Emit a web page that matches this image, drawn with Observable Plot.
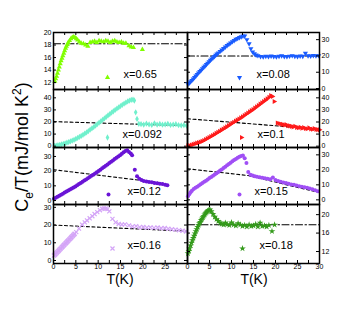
<!DOCTYPE html>
<html><head><meta charset="utf-8">
<script src="https://cdn.jsdelivr.net/npm/d3@7"></script>
<script src="https://cdn.jsdelivr.net/npm/@observablehq/plot@0.6"></script>
<style>
html,body{margin:0;padding:0;background:#fff;}
#chart{position:relative;width:360px;height:318px;overflow:hidden;font-family:"Liberation Sans",Arial,sans-serif;background:#fff;}
.panel{position:absolute;}
.panel svg{display:block;overflow:visible;background:transparent;}
.xlab{position:absolute;font-size:14px;transform:translate(-50%,-50%);white-space:nowrap;color:#000;}
.ylab{position:absolute;font-size:18px;transform:translate(-50%,-50%) rotate(-90deg);white-space:nowrap;color:#000;}
</style></head><body><div id="chart"></div><script>
// ---------- data ----------
const xMinor = [2.5,5,7.5,10,12.5,15,17.5,20,22.5,25,27.5];
const xLabelsLeft = [0,5,10,15,20,25];
const xLabelsRight = [0,5,10,15,20,25,30];

const labels = ["x=0.65","x=0.08","x=0.092","x=0.1","x=0.12","x=0.15","x=0.16","x=0.18"];

const yTicks1 = [12,14,16,18,20];
const yTicks2 = [0,10,20,30];
const yTicks3 = [0,10,20,30,40];
const yTicks4 = [0,10,20,30,40];
const yTicks5 = [0,10,20,30];
const yTicks6 = [0,10,20,30];
const yTicks7 = [0,10,20,30];
const yTicks8 = [12,16,20];

const T1 = [0.3,0.5,0.7,0.9,1.1,1.3,1.5,1.7,1.9,2.1,2.3,2.5,2.7,2.9,3.1,3.3,3.6,3.9,4.2,4.5,4.8,5.1,5.4,5.8,6.2,6.7,7.2,7.7,8.2,8.7,9.2,9.7,10.2,10.7,11.2,11.7,12.2,12.7,13.2,13.7,14.2,14.7,15.2,15.7,16.2,16.9,17.4,17.9,19.9];
const C1 = [12.2,12.6,13.0,13.5,14.0,14.5,15.0,15.5,15.9,16.3,16.7,17.1,17.5,17.8,18.1,18.4,18.7,19.0,19.2,19.3,19.2,19.0,18.8,18.5,18.3,18.2,18.0,17.8,18.4,18.5,18.6,18.4,18.7,18.6,18.5,18.7,18.6,18.4,18.6,18.7,18.5,18.4,18.5,18.3,18.3,17.9,17.7,17.6,17.3];

const T2 = [0.1,0.4,0.7,1.0,1.3,1.6,1.9,2.2,2.5,2.8,3.1,3.4,3.7,4.0,4.3,4.6,4.9,5.2,5.5,5.8,6.1,6.4,6.7,7.0,7.4,7.8,8.2,8.6,9.0,9.4,9.8,10.2,10.6,11.0,11.4,11.8,12.2,12.6,13.0,13.5,14.0,14.4,14.8,15.2,15.6,16.0,16.6,17.2,17.8,18.4,19.0,19.6,20.2,20.8,21.4,22.0,22.6,23.2,23.8,24.4,25.0,25.6,26.2,26.8,27.4,28.0,28.6,29.2,29.8];
const C2 = [2.8,3.4,4.2,5.0,5.9,6.8,7.7,8.7,9.6,10.5,11.3,12.2,13.0,13.9,14.8,15.6,16.5,17.3,18.1,18.9,19.7,20.4,21.2,21.9,22.8,23.7,24.6,25.5,26.4,27.2,28.0,28.8,29.5,30.2,30.8,31.3,31.8,32.2,32.3,30.0,27.5,24.5,22.5,21.3,20.6,20.2,19.7,19.5,19.8,19.6,20.0,19.7,19.5,19.8,20.1,19.7,19.6,19.9,20.2,19.8,19.6,20.0,19.8,21.6,20.1,20.0,20.3,20.1,20.2];

const T3 = [0.2,0.6,1.0,1.4,1.8,2.2,2.6,3.0,3.4,3.8,4.2,4.6,5.0,5.4,5.8,6.2,6.6,7.0,7.4,7.8,8.2,8.6,9.0,9.4,9.8,10.2,10.6,11.0,11.4,11.8,12.2,12.6,13.0,13.4,13.8,14.2,14.6,15.0,15.4,15.8,16.2,16.6,17.0,17.4,17.8,18.1,18.4,18.7,19.1,19.6,20.2,20.8,21.4,22.0,22.6,23.2,23.8,24.4,25.0,25.6,26.2,26.8,27.4,28.0,28.6,29.2,29.8];
const C3 = [0.3,0.5,0.8,1.1,1.5,1.9,2.4,2.9,3.4,4.0,4.6,5.3,6.0,6.8,7.6,8.5,9.4,10.4,11.4,12.5,13.6,14.7,15.8,17.0,18.2,19.4,20.6,21.8,23.0,24.2,25.4,26.6,27.8,28.9,30.0,31.1,32.2,33.2,34.2,35.2,36.1,37.0,37.7,38.3,38.6,37.8,28.0,22.5,18.5,18.3,17.8,18.6,18.0,17.6,18.9,17.9,18.4,17.8,18.1,18.5,17.6,17.9,18.2,17.4,17.2,17.5,17.0];

const T4 = [0.1,0.5,0.9,1.3,1.7,2.1,2.5,2.9,3.3,3.7,4.1,4.5,4.9,5.3,5.7,6.1,6.5,6.9,7.3,7.7,8.1,8.5,8.9,9.3,9.7,10.1,10.5,10.9,11.3,11.7,12.1,12.5,12.9,13.3,13.7,14.1,14.5,14.9,15.3,15.7,16.1,16.5,16.9,17.3,17.7,18.1,18.5,18.9,19.3,19.7,20.4,20.8,21.2,21.6,22.0,22.4,22.8,23.2,23.6,24.0,24.4,24.8,25.2,25.6,26.0,26.4,26.8,27.2,27.6,28.0,28.4,28.8,29.2,29.6,30.0];
const C4 = [0.2,0.6,1.0,1.5,2.0,2.5,2.9,3.4,4.0,4.7,5.5,6.3,7.2,8.0,8.8,9.7,10.6,11.5,12.4,13.3,14.2,15.1,16.0,17.0,18.0,18.9,19.8,20.7,21.6,22.5,23.4,24.4,25.4,26.4,27.4,28.4,29.4,30.4,31.5,32.6,33.7,34.8,35.9,37.0,38.1,39.2,40.4,41.8,41.2,37.0,19.2,18.8,18.4,18.0,17.6,17.8,17.0,16.8,16.4,16.0,16.5,15.6,15.2,15.6,14.8,15.3,14.6,14.4,15.1,14.2,14.0,14.5,13.9,13.7,13.5];

const T5 = [0.1,0.5,0.9,1.3,1.7,2.1,2.5,2.9,3.3,3.7,4.1,4.5,4.9,5.3,5.7,6.1,6.5,6.9,7.3,7.7,8.1,8.5,8.9,9.3,9.7,10.1,10.5,10.9,11.3,11.7,12.1,12.5,12.9,13.3,13.7,14.1,14.5,14.9,15.3,15.7,16.1,16.5,16.9,17.3,17.6,18.2,18.7,19.2,19.7,20.2,20.8,21.4,22.0,22.6,23.2,23.8,24.4,25.0,25.5];
const C5 = [1.2,1.9,2.6,3.3,4.0,4.7,5.4,6.1,6.8,7.5,8.2,8.9,9.6,10.4,11.2,12.0,12.8,13.6,14.4,15.2,16.0,16.8,17.6,18.4,19.2,20.1,21.0,21.9,22.8,23.7,24.6,25.5,26.4,27.3,28.2,29.1,30.0,30.9,31.8,32.8,33.8,34.2,33.0,32.0,30.8,21.0,16.5,14.8,14.0,13.3,12.9,12.6,12.4,12.0,11.8,11.5,11.2,10.8,10.4];

const T6 = [0.1,0.4,0.7,1.0,1.4,1.8,2.2,2.6,3.0,3.4,3.8,4.2,4.6,5.0,5.4,5.8,6.2,6.6,7.0,7.4,7.8,8.2,8.6,9.0,9.4,9.8,10.2,10.6,11.0,11.4,11.8,12.2,12.6,13.0,13.4,13.8,14.3,14.8,15.3,15.8,16.4,17.0,17.6,18.2,18.8,19.4,20.0,20.6,21.2,21.8,22.4,23.0,23.6,24.2,24.8,25.4,26.0,26.6,27.2,27.8,28.4,29.0,29.6];
const C6 = [2.4,3.8,5.0,6.1,7.2,8.0,8.8,9.6,10.4,11.2,12.0,12.8,13.6,14.5,15.3,16.1,16.9,17.7,18.6,19.5,20.3,21.2,22.1,23.0,23.9,24.8,25.7,26.5,27.3,28.1,28.8,29.3,29.5,27.8,24.6,18.6,16.8,16.2,15.8,15.4,15.0,14.7,14.4,14.0,13.7,14.9,13.2,12.6,12.0,11.6,11.2,10.7,10.3,10.0,9.6,9.1,8.8,8.4,8.0,7.5,7.0,6.4,5.8];

const T7 = [0.1,0.25,0.4,0.55,0.7,0.85,1.0,1.15,1.3,1.45,1.6,1.75,1.9,2.05,2.2,2.35,2.5,2.65,2.8,2.95,3.1,3.25,3.4,3.55,3.7,3.85,4.0,4.15,4.3,4.45,4.6,4.75,5.1,5.7,6.4,7.0,7.5,8.1,8.7,9.2,9.8,10.4,10.9,11.3,11.7,12.1,12.5,13.2,13.9,14.6,15.3,16.0,16.9,17.7,18.5,19.3,20.1,20.9,21.7,22.5,23.3,24.1,24.9,25.7,26.5,27.3,28.1,28.9,29.7];
const C7 = [2.8,3.2,3.5,3.9,4.3,4.7,5.1,5.5,5.9,6.3,6.7,7.1,7.5,7.9,8.3,8.7,9.1,9.5,9.9,10.3,10.7,11.1,11.5,11.9,12.3,12.7,13.1,13.5,13.9,14.3,14.7,15.1,16.0,18.0,20.2,21.5,22.6,23.8,25.0,26.2,27.3,28.4,29.2,29.4,29.3,29.0,27.7,23.5,21.5,20.6,20.3,20.4,19.8,19.2,19.4,18.8,18.9,18.5,18.7,18.4,18.6,18.2,18.3,17.9,17.6,17.4,17.1,16.8,16.4];

const T8 = [0.1,0.3,0.5,0.7,0.9,1.1,1.3,1.5,1.7,1.9,2.1,2.3,2.5,2.7,2.9,3.1,3.3,3.5,3.7,3.9,4.1,4.3,4.5,4.7,4.9,5.1,5.4,5.8,6.2,6.6,7.0,7.4,7.8,8.2,8.6,9.0,9.5,10.0,10.5,11.0,11.5,12.0,12.5,13.0,13.5,14.0,14.5,15.0,15.5,16.0,16.5,17.0,17.5,18.0,18.5,19.2,19.8];
const C8 = [11.6,12.1,12.7,13.3,13.9,14.4,14.9,15.4,15.9,16.4,16.8,17.3,17.7,18.1,18.4,18.8,19.1,19.4,19.7,20.0,20.3,20.5,20.7,20.9,21.0,21.1,20.7,20.1,19.5,19.0,18.6,18.2,18.0,17.8,18.2,17.9,17.7,18.3,17.8,17.6,18.1,17.8,17.5,17.7,17.4,17.8,17.5,17.6,17.9,17.4,18.2,17.5,17.6,17.4,17.7,16.4,17.8];

// reference (dashed / dash-dot) lines
const refT1 = [0,30], refC1 = [18.2,18.2];
const refT2 = [0,30], refC2 = [20,20];
const refT3 = [0,30], refC3 = [20.3,17.0];
const refT4 = [0,30], refC4 = [22.7,14.0];
const refT5 = [0,24], refC5 = [21.0,12.1];
const refT6 = [0,13.8,30], refC6 = [20.7,16.2,4.8];
const refT7 = [0,30], refC7 = [20.0,16.5];
const refT8 = [0,30], refC8 = [17.8,17.8];

// ---------- symbols ----------
const triDown = {draw(ctx, size){const s=Math.sqrt(size*4/Math.sqrt(3));const h=s*Math.sqrt(3)/2;ctx.moveTo(-s/2,-h/3);ctx.lineTo(s/2,-h/3);ctx.lineTo(0,2*h/3);ctx.closePath();}};
const triRight = {draw(ctx, size){const s=Math.sqrt(size*4/Math.sqrt(3));const h=s*Math.sqrt(3)/2;ctx.moveTo(-h/3,-s/2);ctx.lineTo(-h/3,s/2);ctx.lineTo(2*h/3,0);ctx.closePath();}};

const DASHDOT = "7,2.5,1.5,2.5";
const DASH = "3,2.5";

const panels = [
  {T:T1,C:C1,yDomain:[10.9,20],yTicks:yTicks1,refT:refT1,refC:refC1,dash:DASHDOT,sym:"triangle",r:1.9,fill:"#80ff00",label:labels[0],row:0,col:0,ldx:54,ldy:-12,tdx:70},
  {T:T2,C:C2,yDomain:[-0.6,34.4],yTicks:yTicks2,refT:refT2,refC:refC2,dash:DASHDOT,sym:triDown,r:1.9,fill:"#1a5cff",label:labels[1],row:0,col:1,ldx:52,ldy:-12,tdx:69},
  {T:T3,C:C3,yDomain:[-1.1,46.9],yTicks:yTicks3,refT:refT3,refC:refC3,dash:DASH,sym:"diamond",r:1.9,fill:"#70f0cc",label:labels[2],row:1,col:0,ldx:54,ldy:-10,tdx:69},
  {T:T4,C:C4,yDomain:[-1.1,46.9],yTicks:yTicks4,refT:refT4,refC:refC4,dash:DASH,sym:triRight,r:1.9,fill:"#ff1a1a",label:labels[3],row:1,col:1,ldx:54,ldy:-10,tdx:70},
  {T:T5,C:C5,yDomain:[-2.7,36.1],yTicks:yTicks5,refT:refT5,refC:refC5,dash:DASH,sym:"circle",r:2,fill:"#6a14d6",label:labels[4],row:2,col:0,ldx:55,ldy:-10,tdx:74},
  {T:T6,C:C6,yDomain:[-3.1,34.9],yTicks:yTicks6,refT:refT6,refC:refC6,dash:DASH,sym:"circle",r:2,fill:"#a04ff5",label:labels[5],row:2,col:1,ldx:52,ldy:-10,tdx:67},
  {T:T7,C:C7,yDomain:[-1.7,31.6],yTicks:yTicks7,refT:refT7,refC:refC7,dash:DASH,sym:"times",r:2,stroke:"#d4a5f7",label:labels[6],row:3,col:0,ldx:59,ldy:-15,tdx:74},
  {T:T8,C:C8,yDomain:[9.4,22.2],yTicks:yTicks8,refT:refT8,refC:refC8,dash:DASHDOT,sym:"star",r:2.1,fill:"#339a1a",label:labels[7],row:3,col:1,ldx:55,ldy:-15,tdx:72}
];

// ---------- layout ----------
const cols = [{left:0,width:190,ml:53,mr:3},{left:184,width:176,ml:3,mr:41}];
const rowTops = [32,89,147,204];
const rowBots = [89,147,204,263];
const chart = document.getElementById("chart");
const FONT = "'Liberation Sans', Arial, sans-serif";

function makePanel(p){
  const cx = cols[p.col];
  const top = rowTops[p.row], bot = rowBots[p.row];
  const innerH = bot - top, innerW = cx.width - cx.ml - cx.mr;
  const isBottom = p.row === 3;
  const mb = isBottom ? 14 : 3;
  const dotStyle = p.stroke ? {fill:"none", stroke:p.stroke, strokeWidth:1.2} : {fill:p.fill, stroke:"none"};
  const marks = [
    Plot.line(p.refT, {x:p.refT, y:p.refC, stroke:"#000", strokeWidth:1.1, strokeDasharray:p.dash}),
    Plot.dot(p.T, {x:p.T, y:p.C, symbol:p.sym, r:p.r, ...dotStyle}),
    Plot.tickY(p.yTicks, {y:d=>d, insetRight:innerW-3, stroke:"#000", strokeWidth:1}),
    Plot.tickY(p.yTicks, {y:d=>d, insetLeft:innerW-3, stroke:"#000", strokeWidth:1}),
    Plot.tickX(xMinor, {x:d=>d, insetBottom:innerH-3, stroke:"#000", strokeWidth:1}),
    Plot.tickX(xMinor, {x:d=>d, insetTop:innerH-3, stroke:"#000", strokeWidth:1}),
    Plot.frame({stroke:"#000", strokeWidth:1.5}),
    Plot.axisY(p.yTicks, {anchor:p.col===0?"left":"right", tickSize:0, tickPadding:2, fontSize:7, label:null, fill:"#000"}),
    Plot.dot([p.label], {frameAnchor:"bottom-left", dx:p.ldx, dy:p.ldy, symbol:p.sym, r:p.r, ...dotStyle}),
    Plot.text([p.label], {frameAnchor:"bottom-left", dx:p.tdx, dy:p.ldy, text:d=>d, textAnchor:"start", fontSize:11, fill:"#000"})
  ];
  if (isBottom) {
    marks.push(Plot.axisX(p.col===0?xLabelsLeft:xLabelsRight, {anchor:"bottom", tickSize:0, tickPadding:1, fontSize:7, label:null, fill:"#000"}));
  }
  const svg = Plot.plot({
    width: cx.width, height: innerH + 3 + mb,
    marginLeft: cx.ml, marginRight: cx.mr, marginTop: 3, marginBottom: mb,
    x: {domain:[0,30], axis:null},
    y: {domain:p.yDomain, axis:null},
    style: {background:"transparent", overflow:"visible", fontFamily:FONT, color:"#000"},
    marks
  });
  const div = document.createElement("div");
  div.className = "panel";
  div.style.left = cx.left + "px";
  div.style.top = (top - 3) + "px";
  div.style.width = cx.width + "px";
  div.appendChild(svg);
  chart.appendChild(div);
}
panels.forEach(makePanel);

// axis titles
function addLabel(cls, html, x, y){
  const d = document.createElement("div");
  d.className = cls; d.innerHTML = html;
  d.style.left = x + "px"; d.style.top = y + "px";
  chart.appendChild(d);
}
addLabel("xlab", "T(K)", 120, 279);
addLabel("xlab", "T(K)", 254, 279);
addLabel("ylab", "C<sub style='font-size:12px'>e</sub>/T(mJ/mol K<sup style='font-size:12px'>2</sup>)", 23, 147);
</script></body></html>
